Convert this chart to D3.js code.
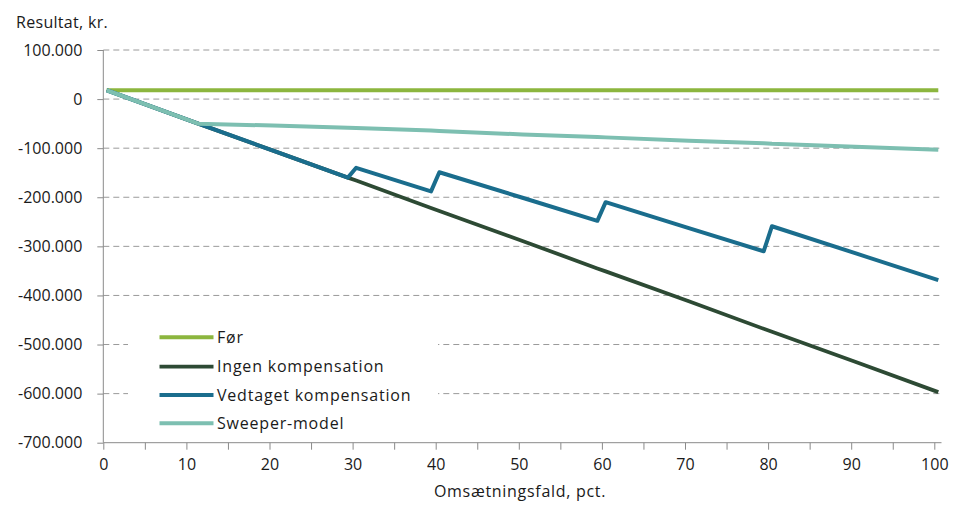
<!DOCTYPE html>
<html>
<head>
<meta charset="utf-8">
<script src="https://cdn.jsdelivr.net/npm/d3@7"></script>
<style>
  html, body { margin: 0; padding: 0; background: #ffffff; }
  svg { display: block; }
  text { font-family: "Open Sans", "Noto Sans", sans-serif; fill: #1a1a1a; }
</style>
</head>
<body>
<svg id="chart" width="962" height="509"></svg>
<script>
// ---- data ----
const pct = [0, 11, 20, 29, 30, 39, 40, 50, 59, 60, 70, 79, 80, 90, 100];
const foer      = [18000, 18000, 18000, 18000, 18000, 18000, 18000, 18000, 18000, 18000, 18000, 18000, 18000, 18000, 18000];
const ingen     = [18000, -50000, -105000, -160000, -166000, -222000, -228000, -289000, -345000, -351000, -412000, -468000, -474000, -535000, -597000];
const vedtaget  = [18000, -50000, -105000, -160000, -140000, -188000, -149000, -201000, -248000, -210000, -263000, -310000, -259000, -314000, -369000];
const sweeper   = [18000, -50000, -54000, -58500, -59000, -64000, -65000, -72000, -77000, -78000, -85000, -90000, -91000, -97000, -103000];
const seriesNames = ["Før", "Ingen kompensation", "Vedtaget kompensation", "Sweeper-model"];
const yTicks = [100000, 0, -100000, -200000, -300000, -400000, -500000, -600000, -700000];
const xTicks = [0, 10, 20, 30, 40, 50, 60, 70, 80, 90, 100];
const xMinorTicks = [0, 5, 10, 15, 20, 25, 30, 35, 40, 45, 50, 55, 60, 65, 70, 75, 80, 85, 90, 95, 100];
const yTitle = "Resultat, kr.";
const xTitle = "Omsætningsfald, pct.";

const colors = ["#8cb63e", "#2d4a34", "#1a6d8d", "#7dbfb1"];
const widths = [4, 3.8, 4, 4];

const svg = d3.select("#chart");
const plotLeft = 103.3, plotRight = 941.5, plotTop = 50, plotBottom = 442.7;

const x = d3.scaleLinear().domain([0, 100]).range([106.7, 938.3]);
const xAxisScale = d3.scaleLinear().domain([0, 100]).range([103.3, 934.3]);
const y = d3.scaleLinear().domain([-700000, 100000]).range([plotBottom, plotTop]);

const locale = d3.formatLocale({decimal: ",", thousands: ".", grouping: [3], currency: ["", " kr."], minus: "-"});
const fmt = locale.format(",.0f");

// gridlines
svg.append("g").selectAll("line").data(yTicks.filter(d => d !== -700000)).join("line")
  .attr("x1", plotLeft).attr("x2", plotRight)
  .attr("y1", d => y(d)).attr("y2", d => y(d))
  .attr("stroke", "#9a9a9a").attr("stroke-width", 1).attr("stroke-dasharray", "6,4");

// y axis
const yAxis = svg.append("g").attr("transform", `translate(${plotLeft},0)`)
  .call(d3.axisLeft(y).tickValues(yTicks).tickFormat(fmt).tickSize(6).tickSizeOuter(0).tickPadding(15));
yAxis.select(".domain").attr("stroke", "#8a8a8a").attr("d", `M0,${plotTop}V${plotBottom}`);
yAxis.selectAll(".tick line").attr("stroke", "#8a8a8a");
yAxis.selectAll(".tick text").attr("font-size", 16).attr("fill", "#1a1a1a").style("font-family", "'Open Sans', sans-serif");

// x axis
const xAxis = svg.append("g").attr("transform", `translate(0,${plotBottom})`)
  .call(d3.axisBottom(xAxisScale).tickValues(xMinorTicks)
    .tickFormat(d => xTicks.includes(d) ? d : "").tickSize(7).tickSizeOuter(0).tickPadding(9));
xAxis.select(".domain").attr("stroke", "#8a8a8a").attr("d", `M${plotLeft},0H${plotRight}`);
xAxis.selectAll(".tick line").attr("stroke", "#8a8a8a");
xAxis.selectAll(".tick text").attr("font-size", 16).attr("fill", "#1a1a1a").style("font-family", "'Open Sans', sans-serif");

// titles
svg.append("text").attr("x", 16).attr("y", 28).attr("font-size", 16).attr("letter-spacing", 0.3).text(yTitle);
svg.append("text").attr("x", 520).attr("y", 497).attr("text-anchor", "middle").attr("font-size", 16).attr("letter-spacing", 0.7).text(xTitle);

// lines
const allSeries = [foer, ingen, vedtaget, sweeper];
const line = d3.line().x((d, i) => x(pct[i])).y(d => y(d));
svg.append("g").selectAll("path").data(allSeries).join("path")
  .attr("d", d => line(d))
  .attr("fill", "none")
  .attr("stroke", (d, i) => colors[i])
  .attr("stroke-width", (d, i) => widths[i])
  .attr("stroke-linejoin", "round");

// legend
const lg = svg.append("g");
lg.append("rect").attr("x", 128).attr("y", 320).attr("width", 310).attr("height", 118).attr("fill", "#ffffff");
const rowY = [337.3, 366.7, 395, 423.3];
seriesNames.forEach((name, i) => {
  lg.append("line").attr("x1", 159.5).attr("x2", 213.5).attr("y1", rowY[i]).attr("y2", rowY[i])
    .attr("stroke", colors[i]).attr("stroke-width", widths[i]);
  lg.append("text").attr("x", 217).attr("y", rowY[i]).attr("dy", "0.35em").attr("font-size", 16)
    .attr("letter-spacing", 0.8).text(name);
});
</script>
</body>
</html>
